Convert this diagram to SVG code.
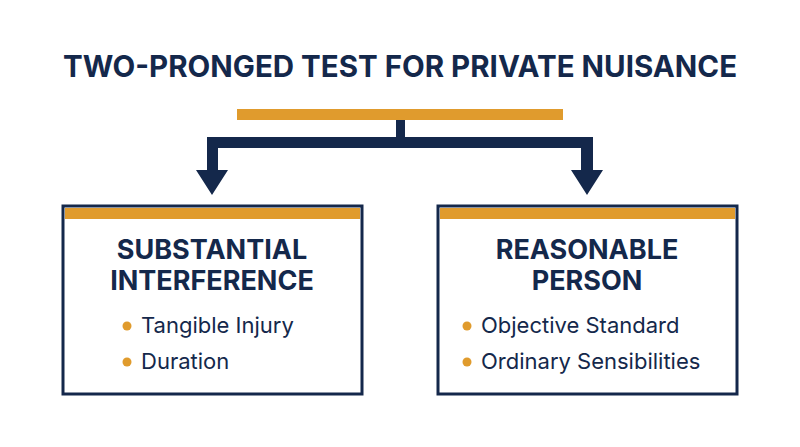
<svg xmlns="http://www.w3.org/2000/svg" width="800" height="447" viewBox="0 0 800 447">
<style>
.t{font-family:"Inter","Liberation Sans",sans-serif;font-weight:700;fill:#14284b;text-anchor:middle}
.b{font-family:"Inter","Liberation Sans",sans-serif;font-size:22px;fill:#14284b}
.box{fill:#fff;stroke:#14284b;stroke-width:3}
.or{fill:#e09b2d}
.nv{fill:#14284b}
</style>
<rect width="800" height="447" fill="#fff"/>
<text class="t" x="400" y="77" font-size="29.5">TWO-PRONGED TEST FOR PRIVATE NUISANCE</text>
<g id="connectors">
<rect class="or" x="237" y="109" width="326" height="11"/>
<rect class="nv" x="396" y="120" width="9" height="18"/>
<path class="nv" d="M207,137 H593 V170 H603 L587,195 L571,170 H581 V148 H218 V170 H228 L212,195 L196,170 H207 Z"/>
</g>
<g id="left">
<rect class="box" x="63" y="206" width="299" height="188"/>
<rect class="or" x="65" y="208" width="295" height="11"/>
<text class="t" x="212" y="259" font-size="27">SUBSTANTIAL</text>
<text class="t" x="212" y="290" font-size="27">INTERFERENCE</text>
<circle class="or" cx="127" cy="326" r="4.5"/>
<text class="b" x="141" y="333">Tangible Injury</text>
<circle class="or" cx="127" cy="362" r="4.5"/>
<text class="b" x="141" y="369">Duration</text>
</g>
<g id="right">
<rect class="box" x="438" y="206" width="299" height="188"/>
<rect class="or" x="440" y="208" width="295" height="11"/>
<text class="t" x="587" y="259" font-size="27">REASONABLE</text>
<text class="t" x="587" y="290" font-size="27">PERSON</text>
<circle class="or" cx="467" cy="326" r="4.5"/>
<text class="b" x="481" y="333">Objective Standard</text>
<circle class="or" cx="467" cy="362" r="4.5"/>
<text class="b" x="481" y="369">Ordinary Sensibilities</text>
</g>
</svg>
